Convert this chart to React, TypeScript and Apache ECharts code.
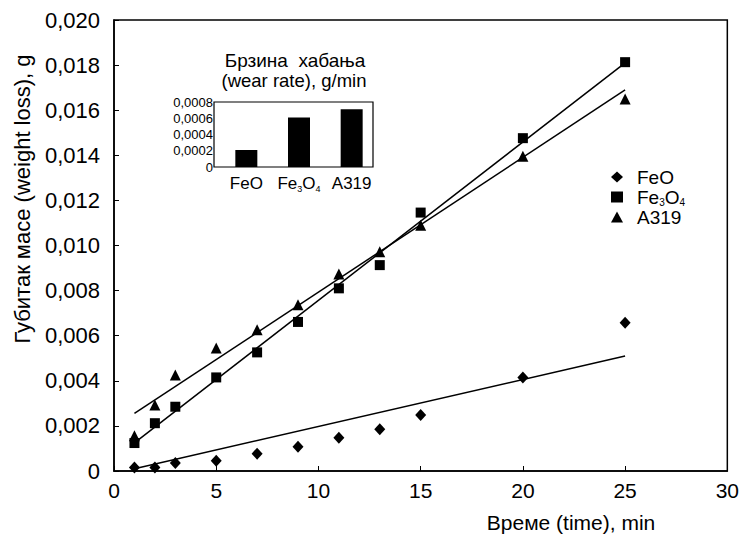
import React, { useEffect, useRef } from "react";
import * as echarts from "echarts";

// Measured points: time (min) and weight loss (g)
const timeMin = [1, 2, 3, 5, 7, 9, 11, 13, 15, 20, 25];
const feoLoss = [0.00015, 0.00015, 0.00036, 0.00045, 0.00077, 0.00107, 0.00147, 0.00185, 0.00248, 0.00415, 0.00657];
const fe3o4Loss = [0.00124, 0.00212, 0.00285, 0.00415, 0.00526, 0.00661, 0.0081, 0.00913, 0.01146, 0.01476, 0.01813];
const a319Loss = [0.00156, 0.00293, 0.00426, 0.00546, 0.00626, 0.00737, 0.00874, 0.00972, 0.0109, 0.01396, 0.0165];

// Fitted trend lines (endpoints)
const trendTime = [1, 25];
const feoTrend = [0.0001, 0.0051];
const fe3o4Trend = [0.00125, 0.0181];
const a319Trend = [0.00255, 0.0169];

// Inset: wear rate (g/min)
const rateCategories = ["FeO", "Fe3O4", "A319"];
const wearRate = [0.00021, 0.00061, 0.00071];

const seriesNames = ["FeO", "Fe3O4", "A319"];

const FONT = "'Liberation Sans', Arial, sans-serif";

const chem = (n: string) => (n === "Fe3O4" ? "Fe{sub|3}O{sub|4}" : n);
const pairs = (xs: number[], ys: number[]) => xs.map((x, i) => [x, ys[i]]);

export default function App() {
  const ref = useRef<HTMLDivElement>(null);

  useEffect(() => {
    if (!ref.current) return;
    const chart = echarts.init(ref.current, undefined, { renderer: "svg" });

    const subRich = (size: number) => ({
      sub: { fontSize: size, verticalAlign: "bottom", lineHeight: 3, fontFamily: FONT, color: "#000" },
    });

    const scatterBase = {
      type: "scatter",
      xAxisIndex: 0,
      yAxisIndex: 0,
      itemStyle: { color: "#000", opacity: 1 },
      z: 3,
    };
    const lineBase = {
      type: "line",
      xAxisIndex: 0,
      yAxisIndex: 0,
      showSymbol: false,
      symbol: "none",
      silent: true,
      lineStyle: { color: "#000", width: 1.5 },
      z: 2,
    };

    chart.setOption({
      animation: false,
      backgroundColor: "#fff",
      textStyle: { fontFamily: FONT, color: "#000" },
      grid: [
        {
          left: 114,
          top: 20,
          width: 616,
          height: 451,
          show: true,
          borderColor: "#000",
          borderWidth: 1.5,
          backgroundColor: "transparent",
        },
        { left: 220, top: 102, width: 158, height: 65, show: false },
      ],
      xAxis: [
        {
          type: "value",
          gridIndex: 0,
          min: 0,
          max: 30,
          interval: 5,
          splitLine: { show: false },
          axisLine: { lineStyle: { color: "#000", width: 1.5 } },
          axisTick: { inside: true, length: 5, lineStyle: { color: "#000" } },
          axisLabel: { fontSize: 21, color: "#000", margin: 9, fontFamily: FONT },
        },
        {
          type: "category",
          gridIndex: 1,
          data: rateCategories,
          axisLine: { show: false },
          axisTick: { show: false },
          axisLabel: {
            interval: 0,
            fontSize: 17,
            lineHeight: 20,
            color: "#000",
            margin: 6,
            fontFamily: FONT,
            formatter: chem,
            rich: subRich(9),
          },
        },
      ],
      yAxis: [
        {
          type: "value",
          gridIndex: 0,
          min: 0,
          max: 0.02,
          interval: 0.002,
          splitLine: { show: false },
          axisLine: { lineStyle: { color: "#000", width: 1.5 } },
          axisTick: { inside: true, length: 5, lineStyle: { color: "#000" } },
          axisLabel: {
            fontSize: 22,
            color: "#000",
            margin: 14,
            fontFamily: FONT,
            formatter: (v: number) => (v === 0 ? "0" : v.toFixed(3).replace(".", ",")),
          },
        },
        {
          type: "value",
          gridIndex: 1,
          min: 0,
          max: 0.0008,
          interval: 0.0002,
          splitLine: { show: false },
          axisLine: { show: false },
          axisTick: { show: false },
          axisLabel: {
            fontSize: 13,
            color: "#000",
            margin: 7,
            fontFamily: FONT,
            formatter: (v: number) => (v === 0 ? "0" : v.toFixed(4).replace(".", ",")),
          },
        },
      ],
      legend: {
        orient: "vertical",
        left: 606,
        top: 162,
        itemWidth: 12,
        itemHeight: 11,
        itemGap: 0,
        selectedMode: false,
        data: [
          { name: seriesNames[0], icon: "diamond" },
          { name: seriesNames[1], icon: "rect" },
          { name: seriesNames[2], icon: "triangle" },
        ],
        formatter: chem,
        textStyle: {
          fontSize: 19,
          lineHeight: 20,
          padding: [0, 0, 0, 9],
          color: "#000",
          fontFamily: FONT,
          rich: subRich(10),
        },
      },
      graphic: [
        {
          type: "rect",
          shape: { x: 214, y: 102, width: 159, height: 65 },
          style: { fill: "none", stroke: "#000", lineWidth: 1.2 },
          z: 10,
        },
        {
          type: "text",
          x: 295,
          y: 60,
          style: {
            text: "Брзина  хабања",
            fontSize: 19,
            fontFamily: FONT,
            fill: "#000",
            textAlign: "center",
            textVerticalAlign: "middle",
          },
        },
        {
          type: "text",
          x: 294,
          y: 80,
          style: {
            text: "(wear rate), g/min",
            fontSize: 18.5,
            fontFamily: FONT,
            fill: "#000",
            textAlign: "center",
            textVerticalAlign: "middle",
          },
        },
        {
          type: "text",
          x: 571,
          y: 522,
          style: {
            text: "Време (time), min",
            fontSize: 21,
            fontFamily: FONT,
            fill: "#000",
            textAlign: "center",
            textVerticalAlign: "middle",
          },
        },
        {
          type: "text",
          x: 22,
          y: 199,
          rotation: Math.PI / 2,
          style: {
            text: "Губитак масе (weight loss), g",
            fontSize: 22,
            fontFamily: FONT,
            fill: "#000",
            textAlign: "center",
            textVerticalAlign: "middle",
          },
        },
      ],
      series: [
        { ...scatterBase, name: seriesNames[0], symbol: "diamond", symbolSize: [11, 12], data: pairs(timeMin, feoLoss) },
        { ...scatterBase, name: seriesNames[1], symbol: "rect", symbolSize: 10, data: pairs(timeMin, fe3o4Loss) },
        { ...scatterBase, name: seriesNames[2], symbol: "triangle", symbolSize: 11, data: pairs(timeMin, a319Loss) },
        { ...lineBase, name: "FeO fit", data: pairs(trendTime, feoTrend) },
        { ...lineBase, name: "Fe3O4 fit", data: pairs(trendTime, fe3o4Trend) },
        { ...lineBase, name: "A319 fit", data: pairs(trendTime, a319Trend) },
        {
          type: "bar",
          name: "wear rate",
          xAxisIndex: 1,
          yAxisIndex: 1,
          barWidth: 22,
          itemStyle: { color: "#000" },
          data: wearRate,
        },
      ],
    });

    return () => chart.dispose();
  }, []);

  return (
    <div
      ref={ref}
      style={{ position: "fixed", left: 0, top: 0, width: 742, height: 535, background: "#fff" }}
    />
  );
}
